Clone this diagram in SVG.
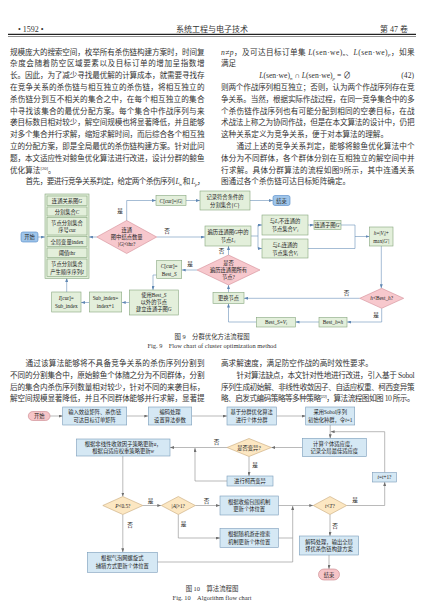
<svg xmlns="http://www.w3.org/2000/svg" width="427" height="609" viewBox="0 0 427 609">
<defs>
<style>
text{font-family:"Liberation Serif","Noto Sans CJK SC",serif;}
.b{font-size:7.6px;fill:#333}
.h{font-size:8px;fill:#333}
.cap{font-size:6.4px;fill:#333;text-anchor:middle}
.d{font-size:5.3px;fill:#222;text-anchor:middle}
.l{font-size:5.6px;fill:#222;text-anchor:middle}
.i{font-style:italic}
.bx9{fill:#e3efdb;stroke:#86a67e;stroke-width:0.6}
.dm9{fill:#f7c8cd;stroke:#d48d97;stroke-width:0.6}
.tm9{fill:#9fc5ea;stroke:#4f86c6;stroke-width:0.6}
.c9{fill:none;stroke:#6a90b8;stroke-width:0.6}
.bx10{fill:#d5e8f4;stroke:#7a9cba;stroke-width:0.6}
.dm10{fill:#fce7c2;stroke:#c7a878;stroke-width:0.6}
.tm10{fill:#f6c5c8;stroke:#c9848c;stroke-width:0.6}
.c10{fill:none;stroke:#8c8c8c;stroke-width:0.6}
</style>
<marker id="a9" markerUnits="userSpaceOnUse" markerWidth="4" markerHeight="3" refX="4" refY="1.5" orient="auto"><path d="M0,0L4,1.5L0,3z" fill="#5f87b3"/></marker>
<marker id="a10" markerUnits="userSpaceOnUse" markerWidth="4" markerHeight="3" refX="4" refY="1.5" orient="auto"><path d="M0,0L4,1.5L0,3z" fill="#6f6f6f"/></marker>
</defs>
<rect width="427" height="609" fill="#fff"/>

<g id="header">
<text class="h" x="18" y="32">• 1592 •</text>
<text class="h" x="212" y="32" text-anchor="middle">系统工程与电子技术</text>
<text class="h" x="408" y="32" text-anchor="end">第 47 卷</text>
<line x1="8" y1="34.4" x2="416" y2="34.4" stroke="#222" stroke-width="1.4"/>
<line x1="8" y1="36.5" x2="416" y2="36.5" stroke="#222" stroke-width="0.5"/>
</g>

<g id="text-top-left">
<text class="b" x="10" y="54.6" textLength="194.5" lengthAdjust="spacing">规模庞大的搜索空间，枚举所有杀伤链构建方案时，时间复</text>
<text class="b" x="10" y="66.4" textLength="194.5" lengthAdjust="spacing">杂度会随着防空区域要素以及目标订单的增加呈指数增</text>
<text class="b" x="10" y="78.2" textLength="194.5" lengthAdjust="spacing">长。因此，为了减少寻找最优解的计算成本，就需要寻找存</text>
<text class="b" x="10" y="90" textLength="194.5" lengthAdjust="spacing">在竞争关系的杀伤链与相互独立的杀伤链，将相互独立的</text>
<text class="b" x="10" y="101.8" textLength="194.5" lengthAdjust="spacing">杀伤链分到互不相关的集合之中，在每个相互独立的集合</text>
<text class="b" x="10" y="113.6" textLength="194.5" lengthAdjust="spacing">中寻找该集合的最优分配方案。每个集合中作战序列与来</text>
<text class="b" x="10" y="125.4" textLength="194.5" lengthAdjust="spacing">袭目标数目相对较少，解空间规模也将显著降低，并且能够</text>
<text class="b" x="10" y="137.2" textLength="194.5" lengthAdjust="spacing">对多个集合并行求解，缩短求解时间，而后综合各个相互独</text>
<text class="b" x="10" y="149" textLength="194.5" lengthAdjust="spacing">立的分配方案，即是全局最优的杀伤链构建方案。针对此问</text>
<text class="b" x="10" y="160.8" textLength="194.5" lengthAdjust="spacing">题，本文适应性对鲸鱼优化算法进行改进，设计分群的鲸鱼</text>
<text class="b" x="10" y="172.6">优化算法<tspan font-size="4.6" dy="-3">[20]</tspan><tspan dy="3">。</tspan></text>
<text class="b" x="25.5" y="184.4" textLength="179" lengthAdjust="spacing">首先，要进行竞争关系判定，给定两个杀伤序列 <tspan class="i">L</tspan><tspan font-size="5" dy="1.5" class="i">n</tspan><tspan dy="-1.5"> 和 </tspan><tspan class="i">L</tspan><tspan font-size="5" dy="1.5" class="i">p</tspan><tspan dy="-1.5">，</tspan></text>
</g>

<g id="text-top-right">
<text class="b" x="221" y="54.6" textLength="193.5" lengthAdjust="spacing"><tspan class="i">n</tspan>≠<tspan class="i">p</tspan>，及可达目标订单集 <tspan class="i">L</tspan>(sen·we)<tspan font-size="5" dy="1.5" class="i">n</tspan><tspan dy="-1.5">、</tspan><tspan class="i">L</tspan>(sen·we)<tspan font-size="5" dy="1.5" class="i">p</tspan><tspan dy="-1.5">，如果</tspan></text>
<text class="b" x="221" y="66.4">满足</text>
<text class="b" x="305" y="78.2" text-anchor="middle"><tspan class="i">L</tspan>(sen·we)<tspan font-size="5" dy="1.5" class="i">n</tspan><tspan dy="-1.5"> ∩ </tspan><tspan class="i">L</tspan>(sen·we)<tspan font-size="5" dy="1.5" class="i">p</tspan><tspan dy="-1.5"> = ∅</tspan></text>
<text class="b" x="414" y="78.2" text-anchor="end">(42)</text>
<text class="b" x="221" y="90" textLength="193.5" lengthAdjust="spacing">则两个作战序列相互独立；否则，认为两个作战序列存在竞</text>
<text class="b" x="221" y="101.8" textLength="193.5" lengthAdjust="spacing">争关系。当然，根据实际作战过程，在同一竞争集合中的多</text>
<text class="b" x="221" y="113.6" textLength="193.5" lengthAdjust="spacing">个杀伤链作战序列也有可能分配到相同的空袭目标，在战</text>
<text class="b" x="221" y="125.4" textLength="193.5" lengthAdjust="spacing">术战法上称之为协同作战，但是在本文算法的设计中，仍把</text>
<text class="b" x="221" y="137.2">这种关系定义为竞争关系，便于对本算法的理解。</text>
<text class="b" x="236.5" y="149" textLength="178" lengthAdjust="spacing">通过上述的竞争关系判定，能够将鲸鱼优化算法中个</text>
<text class="b" x="221" y="160.8" textLength="193.5" lengthAdjust="spacing">体分为不同群体，各个群体分别在互相独立的解空间中并</text>
<text class="b" x="221" y="172.6" textLength="193.5" lengthAdjust="spacing">行求解。具体分群算法的流程如图9所示，其中连通关系</text>
<text class="b" x="221" y="184.4">图通过各个杀伤链可达目标矩阵确定。</text>
</g>

<!-- Figure 9 -->
<g id="f9-connectors">
<polyline class="c9" points="38,237 45,237" marker-end="url(#a9)"/>
<polyline class="c9" points="96.7,237 89,237" marker-end="url(#a9)"/>
<polyline class="c9" points="126.7,221 126.7,200.5 156,200.5" marker-end="url(#a9)"/>
<polyline class="c9" points="186,200.5 200,200.5" marker-end="url(#a9)"/>
<polyline class="c9" points="250,200.5 273,200.5" marker-end="url(#a9)"/>
<polyline class="c9" points="156.7,237 205,237" marker-end="url(#a9)"/>
<polyline class="c9" points="251,236 258,236"/>
<polyline class="c9" points="258,225 258,248.5"/>
<polyline class="c9" points="258,225 262,225" marker-end="url(#a9)"/>
<polyline class="c9" points="258,248.5 262,248.5" marker-end="url(#a9)"/>
<polyline class="c9" points="308,225 314,225" marker-end="url(#a9)"/>
<polyline class="c9" points="341,225 355,225 355,248.5 308,248.5"/>
<polyline class="c9" points="355,236.5 369.5,236.5" marker-end="url(#a9)"/>
<polyline class="c9" points="381.3,246 381.3,288.3" marker-end="url(#a9)"/>
<polyline class="c9" points="359.7,298.3 244,298.3" marker-end="url(#a9)"/>
<polyline class="c9" points="381.7,308.3 381.7,322 347,322" marker-end="url(#a9)"/>
<polyline class="c9" points="319,322 295.5,322" marker-end="url(#a9)"/>
<polyline class="c9" points="256.5,322 228.5,322 228.5,303.5" marker-end="url(#a9)"/>
<polyline class="c9" points="228.5,292.5 228.5,285" marker-end="url(#a9)"/>
<polyline class="c9" points="228.5,255 228.5,246" marker-end="url(#a9)"/>
<polyline class="c9" points="197,270 181.7,270" marker-end="url(#a9)"/>
<polyline class="c9" points="156.7,275 153,275 153,290" marker-end="url(#a9)"/>
<polyline class="c9" points="129.3,302.5 121.7,302.5" marker-end="url(#a9)"/>
<polyline class="c9" points="89.3,302.5 81,302.5" marker-end="url(#a9)"/>
<polyline class="c9" points="66.7,292 66.7,278" marker-end="url(#a9)"/>
<text class="l" x="120" y="213">是</text>
<text class="l" x="167" y="233">否</text>
<text class="l" x="346.5" y="294.5">否</text>
<text class="l" x="376" y="317">是</text>
<text class="l" x="221.5" y="253">否</text>
<text class="l" x="190" y="266">是</text>
</g>

<g id="f9-start">
<rect class="tm9" x="21" y="232" width="17" height="10" rx="2"/>
<text class="d" x="29.5" y="239">开始</text>
</g>
<g id="f9-stack">
<rect class="bx9" x="45" y="194" width="44" height="84.5"/>
<rect class="bx9" x="47" y="196" width="40" height="9.5"/>
<text class="d" x="67" y="202.8">连通关系图<tspan class="i">G</tspan></text>
<rect class="bx9" x="47" y="207" width="40" height="9"/>
<text class="d" x="67" y="213.5">分割集合<tspan class="i">C</tspan></text>
<rect class="bx9" x="47" y="217.5" width="40" height="17.5"/>
<text class="d" x="67" y="225">节点分割集合</text>
<text class="d" x="67" y="232">序号cur</text>
<rect class="bx9" x="47" y="236.5" width="40" height="10"/>
<text class="d" x="67" y="243.5">全局变量index</text>
<rect class="bx9" x="47" y="248" width="40" height="9.5"/>
<text class="d" x="67" y="254.8">阈值thr</text>
<rect class="bx9" x="47" y="259" width="40" height="17.5"/>
<text class="d" x="67" y="266.3">节点分割集合</text>
<text class="d" x="67" y="273.5">产生顺序序列<tspan class="i">I</tspan></text>
</g>
<g id="f9-d1">
<polygon class="dm9" points="96.7,237 126.7,220.5 156.7,237 126.7,253.5"/>
<text class="d" x="126.7" y="232">连通</text>
<text class="d" x="126.7" y="239">图中结点数量</text>
<text class="d" x="126.7" y="246">|<tspan class="i">G</tspan>|&lt;thr?</text>
</g>
<g id="f9-ccur">
<rect class="bx9" x="156" y="195.5" width="30" height="10"/>
<text class="d" x="171" y="202.5"><tspan class="i">C</tspan>[cur]=|<tspan class="i">G</tspan>|</text>
</g>
<g id="f9-record">
<rect class="bx9" x="200" y="191" width="50" height="19"/>
<text class="d" x="225" y="199">记录符合条件的</text>
<text class="d" x="225" y="206.5">分割集合{<tspan class="i">C</tspan>}</text>
</g>
<g id="f9-end">
<rect class="tm9" x="273" y="195.5" width="17" height="10" rx="2"/>
<text class="d" x="281.5" y="202.5">结束</text>
</g>
<g id="f9-traverse">
<rect class="bx9" x="205" y="226" width="46" height="20"/>
<text class="d" x="228" y="234">遍历连通图<tspan class="i">G</tspan>中的</text>
<text class="d" x="228" y="242">节点<tspan class="i">L</tspan><tspan font-size="3.8" dy="1" class="i">i</tspan></text>
</g>
<g id="f9-vprime">
<rect class="bx9" x="262" y="215" width="46" height="20"/>
<text class="d" x="285" y="223">与<tspan class="i">L</tspan><tspan font-size="3.8" dy="1" class="i">i</tspan><tspan dy="-1">不连通的</tspan></text>
<text class="d" x="285" y="231">节点集合<tspan class="i">V</tspan>′<tspan font-size="3.8" dy="1" class="i">i</tspan></text>
</g>
<g id="f9-v">
<rect class="bx9" x="262" y="239" width="46" height="19"/>
<text class="d" x="285" y="246.5">与<tspan class="i">L</tspan><tspan font-size="3.8" dy="1" class="i">i</tspan><tspan dy="-1">连通的</tspan></text>
<text class="d" x="285" y="254.5">节点集合<tspan class="i">V</tspan><tspan font-size="3.8" dy="1" class="i">i</tspan></text>
</g>
<g id="f9-subgraph">
<rect class="bx9" x="314" y="220.5" width="27" height="9"/>
<text class="d" x="327.5" y="227">连通子图<tspan class="i">G</tspan>′</text>
</g>
<g id="f9-h">
<rect class="bx9" x="369.5" y="227" width="23.5" height="19"/>
<text class="d" x="381.3" y="234.5"><tspan class="i">h</tspan>=|<tspan class="i">V</tspan><tspan font-size="3.8" dy="1" class="i">i</tspan><tspan dy="-1">|+</tspan></text>
<text class="d" x="381.3" y="242.5">max|<tspan class="i">G</tspan>′|</text>
</g>
<g id="f9-d-besth">
<polygon class="dm9" points="359.7,298.3 381.7,288.3 403.7,298.3 381.7,308.3"/>
<text class="d" x="381.7" y="300.3"><tspan class="i">h</tspan>&lt;Best_<tspan class="i">h</tspan>?</text>
</g>
<g id="f9-change">
<rect class="bx9" x="213" y="292.5" width="31" height="11"/>
<text class="d" x="228.5" y="300">更换节点</text>
</g>
<g id="f9-besth">
<rect class="bx9" x="319" y="317.5" width="28" height="9.5"/>
<text class="d" x="333" y="324">Best_<tspan class="i">h</tspan>=<tspan class="i">h</tspan></text>
</g>
<g id="f9-bests">
<rect class="bx9" x="256.5" y="317.5" width="39" height="9.5"/>
<text class="d" x="276" y="324">Best_<tspan class="i">S</tspan>=<tspan class="i">V</tspan><tspan font-size="3.8" dy="1" class="i">i</tspan></text>
</g>
<g id="f9-d-all">
<polygon class="dm9" points="197,270 228.5,255 260,270 228.5,285"/>
<text class="d" x="228.5" y="265">是否</text>
<text class="d" x="228.5" y="272">遍历连通图所有</text>
<text class="d" x="228.5" y="279">节点?</text>
</g>
<g id="f9-ccur-best">
<rect class="bx9" x="156.7" y="260.5" width="25" height="18"/>
<text class="d" x="169.2" y="268"><tspan class="i">C</tspan>[cur]=</text>
<text class="d" x="169.2" y="275.5">Best_<tspan class="i">S</tspan></text>
</g>
<g id="f9-use">
<rect class="bx9" x="129.3" y="290" width="49" height="25"/>
<text class="d" x="153.8" y="297">使用Best_<tspan class="i">S</tspan></text>
<text class="d" x="153.8" y="304">以外的节点</text>
<text class="d" x="153.8" y="311">建立连通子图<tspan class="i">G</tspan></text>
</g>
<g id="f9-subindex">
<rect class="bx9" x="89.3" y="292" width="32.4" height="20"/>
<text class="d" x="105.5" y="300">Sub_index=</text>
<text class="d" x="105.5" y="307.5">index+1</text>
</g>
<g id="f9-icur">
<rect class="bx9" x="51.7" y="292" width="29.3" height="20"/>
<text class="d" x="66.3" y="300"><tspan class="i">I</tspan>[cur]=</text>
<text class="d" x="66.3" y="307.5">Sub_index</text>
</g>

<g id="caption9">
<text class="cap" x="212" y="338.5">图 9　分群优化方法流程图</text>
<text class="cap" x="212" y="348" font-size="6px">Fig. 9　Flow chart of cluster optimization method</text>
</g>

<g id="text-mid-left">
<text class="b" x="25.5" y="366.2" textLength="179" lengthAdjust="spacing">通过该算法能够将不具备竞争关系的杀伤序列分割到</text>
<text class="b" x="10" y="377.9" textLength="194.5" lengthAdjust="spacing">不同的分割集合中，原始鲸鱼个体随之分为不同群体，分割</text>
<text class="b" x="10" y="389.6" textLength="194.5" lengthAdjust="spacing">后的集合内杀伤序列数量相对较少，针对不同的来袭目标，</text>
<text class="b" x="10" y="401.3" textLength="194.5" lengthAdjust="spacing">解空间规模显著降低，并且不同群体能够并行求解，显著提</text>
</g>
<g id="text-mid-right">
<text class="b" x="221" y="366.2">高求解速度，满足防空作战的高时效性要求。</text>
<text class="b" x="236.5" y="377.9" textLength="178" lengthAdjust="spacing">针对算法缺点，本文针对性地进行改进，引入基于 Sobol</text>
<text class="b" x="221" y="389.6" textLength="193.5" lengthAdjust="spacing">序列生成初始解、非线性收敛因子、自适应权重、柯西变异策</text>
<text class="b" x="221" y="401.3" textLength="193.5" lengthAdjust="spacing">略、启发式编码策略等多种策略<tspan font-size="4.6" dy="-3">[22]</tspan><tspan dy="3">，算法流程图如图 10 所示。</tspan></text>
</g>

<!-- Figure 10 -->
<g id="f10-connectors">
<polyline class="c10" points="50,416 62.7,416" marker-end="url(#a10)"/>
<polyline class="c10" points="126.7,416 148.3,416" marker-end="url(#a10)"/>
<polyline class="c10" points="191.7,416 227,416" marker-end="url(#a10)"/>
<polyline class="c10" points="276.3,416 305.7,416" marker-end="url(#a10)"/>
<polyline class="c10" points="330.2,425 330.2,438.3" marker-end="url(#a10)"/>
<polyline class="c10" points="384.7,472.5 384.7,431.7 330.6,431.7" marker-end="url(#a10)"/>
<polyline class="c10" points="302.3,447.5 271.3,447.5" marker-end="url(#a10)"/>
<polyline class="c10" points="227,447.5 170,447.5" marker-end="url(#a10)"/>
<polyline class="c10" points="249,456.5 249,476" marker-end="url(#a10)"/>
<polyline class="c10" points="227,481 195,481 195,448" marker-end="url(#a10)"/>
<polyline class="c10" points="122.8,456 122.8,496.5" marker-end="url(#a10)"/>
<polyline class="c10" points="142.8,505.5 161.3,505.5" marker-end="url(#a10)"/>
<polyline class="c10" points="195.3,505.5 220,505.5" marker-end="url(#a10)"/>
<polyline class="c10" points="178.3,514.5 178.3,538 220,538" marker-end="url(#a10)"/>
<polyline class="c10" points="122.8,514.5 122.8,552.3" marker-end="url(#a10)"/>
<polyline class="c10" points="157.3,562 292.7,562"/>
<polyline class="c10" points="278.3,538 292.7,538"/>
<polyline class="c10" points="292.7,562 292.7,506" marker-end="url(#a10)"/>
<polyline class="c10" points="278.3,505.5 313.3,505.5" marker-end="url(#a10)"/>
<polyline class="c10" points="346.7,505.5 384.7,505.5 384.7,482" marker-end="url(#a10)"/>
<polyline class="c10" points="330,514.5 330,536" marker-end="url(#a10)"/>
<polyline class="c10" points="329,555 329,569" marker-end="url(#a10)"/>
<text class="l" x="216.5" y="444">否</text>
<text class="l" x="255" y="467">是</text>
<text class="l" x="150.5" y="502.5">是</text>
<text class="l" x="206.5" y="502.5">否</text>
<text class="l" x="183.5" y="525.5">是</text>
<text class="l" x="130" y="527">否</text>
<text class="l" x="355" y="501.5">是</text>
<text class="l" x="335" y="527.5">否</text>
</g>

<g id="f10-start">
<rect class="tm10" x="28.3" y="411.5" width="21.7" height="9" rx="4.5"/>
<text class="d" x="39.2" y="417.9">开始</text>
</g>
<g id="f10-input">
<rect class="bx10" x="62.7" y="407" width="64" height="18"/>
<text class="d" x="94.7" y="414.3">输入效益矩阵、杀伤链</text>
<text class="d" x="94.7" y="421.8">可达目标订单矩阵</text>
</g>
<g id="f10-encode">
<rect class="bx10" x="148.3" y="407" width="43.4" height="18"/>
<text class="d" x="170" y="414.3">编码处理</text>
<text class="d" x="170" y="421.8">设置算法参数</text>
</g>
<g id="f10-cluster">
<rect class="bx10" x="227" y="407" width="49.3" height="18"/>
<text class="d" x="251.6" y="414.3">基于分群优化算法</text>
<text class="d" x="251.6" y="421.8">进行个体分群</text>
</g>
<g id="f10-sobol">
<rect class="bx10" x="305.7" y="407" width="49" height="18"/>
<text class="d" x="330.2" y="414.3">采用Sobol序列</text>
<text class="d" x="330.2" y="421.8">初始化种群，令<tspan class="i">t</tspan>=1</text>
</g>
<g id="f10-fitness">
<rect class="bx10" x="302.3" y="438.3" width="64" height="18.4"/>
<text class="d" x="334.3" y="445.8">计算个体适应度，</text>
<text class="d" x="334.3" y="453.3">记录全局最佳适应度</text>
</g>
<g id="f10-d-mutate">
<polygon class="dm10" points="227,447.5 249,438.5 271.3,447.5 249,456.5"/>
<text class="d" x="249" y="449.5">是否变异?</text>
</g>
<g id="f10-update-aw">
<rect class="bx10" x="76.5" y="439" width="93.5" height="17"/>
<text class="d" x="123.2" y="446">根据非线性收敛因子策略更新<tspan class="i">a</tspan>，</text>
<text class="d" x="123.2" y="453.2">根据自适应权重策略更新<tspan class="i">w</tspan></text>
</g>
<g id="f10-cauchy">
<rect class="bx10" x="227" y="476" width="46" height="10"/>
<text class="d" x="250" y="483">进行柯西变异</text>
</g>
<g id="f10-d-p">
<polygon class="dm10" points="102.8,505.5 122.8,496.5 142.8,505.5 122.8,514.5"/>
<text class="d" x="122.8" y="507.5"><tspan class="i">P</tspan>&lt;0.5?</text>
</g>
<g id="f10-d-a">
<polygon class="dm10" points="161.3,505.5 178.3,496.5 195.3,505.5 178.3,514.5"/>
<text class="d" x="178.3" y="507.5">|<tspan class="i">A</tspan>|&gt;1?</text>
</g>
<g id="f10-shrink">
<rect class="bx10" x="220" y="496" width="58.3" height="19"/>
<text class="d" x="249.2" y="503.5">根据收缩包围机制</text>
<text class="d" x="249.2" y="511">更新个体位置</text>
</g>
<g id="f10-random">
<rect class="bx10" x="220" y="528.5" width="58.3" height="19"/>
<text class="d" x="249.2" y="536">根据随机游走搜索</text>
<text class="d" x="249.2" y="543.5">机制更新个体位置</text>
</g>
<g id="f10-spiral">
<rect class="bx10" x="87.3" y="552.3" width="70" height="20"/>
<text class="d" x="122.3" y="560">根据气泡网螺旋式</text>
<text class="d" x="122.3" y="567.7">捕猎方式更新个体位置</text>
</g>
<g id="f10-d-t">
<polygon class="dm10" points="313.3,505.5 330,496.5 346.7,505.5 330,514.5"/>
<text class="d" x="330" y="507.5"><tspan class="i">t</tspan>&lt;<tspan class="i">T</tspan>?</text>
</g>
<g id="f10-tinc">
<rect class="bx10" x="372.5" y="472.5" width="24" height="9.5"/>
<text class="d" x="384.5" y="479"><tspan class="i">t</tspan>=<tspan class="i">t</tspan>+1?</text>
</g>
<g id="f10-decode">
<rect class="bx10" x="299.3" y="536" width="59.4" height="19"/>
<text class="d" x="329" y="543.5">解码处理，输出全局</text>
<text class="d" x="329" y="551">择优杀伤链构建方案</text>
</g>
<g id="f10-end">
<rect class="tm10" x="318.5" y="569" width="21" height="11" rx="5.5"/>
<text class="d" x="329" y="576.5">结束</text>
</g>

<g id="caption10">
<text class="cap" x="212" y="590.5">图 10　算法流程图</text>
<text class="cap" x="212" y="599.5" font-size="6px">Fig. 10　Algorithm flow chart</text>
</g>
</svg>
